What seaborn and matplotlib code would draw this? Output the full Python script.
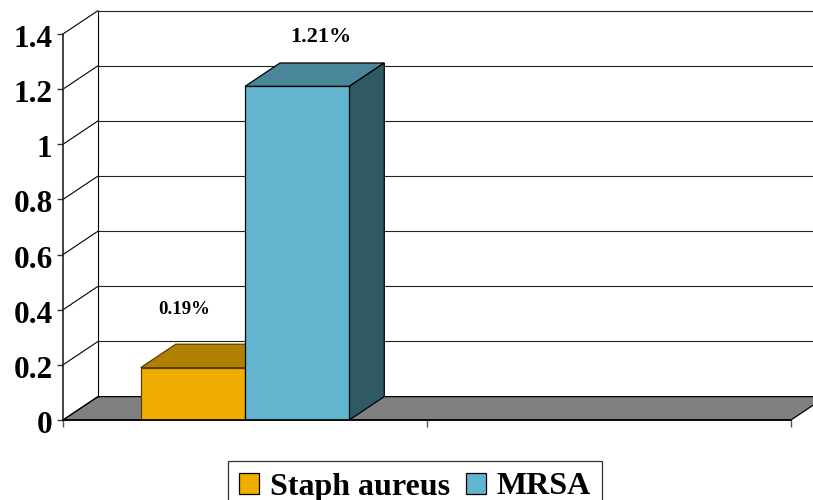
import matplotlib
matplotlib.use("Agg")
import matplotlib.pyplot as plt
from matplotlib.patches import Polygon, Patch
from matplotlib.transforms import ScaledTranslation
import pandas as pd
import seaborn as sns

series_names = ["Staph aureus", "MRSA"]
series_values = [0.19, 1.21]
value_labels = ["0.19%", "1.21%"]
y_ticks = [0, 0.2, 0.4, 0.6, 0.8, 1, 1.2, 1.4]
y_tick_labels = ["0", "0.2", "0.4", "0.6", "0.8", "1", "1.2", "1.4"]

FRONT = ["#F0AD00", "#62B4CF"]
TOP = ["#B08000", "#4A8699"]
SIDE = ["#8A6400", "#2F5A64"]
EDGE = ["#5A4000", "#000000"]
FLOOR = "#808080"
W, H = 813, 500
DPI = 100

sns.set_theme(style="white")
plt.rcParams["font.family"] = ["Liberation Serif", "DejaVu Serif"]
plt.rcParams["font.weight"] = "bold"
plt.rcParams["text.color"] = "black"

fig = plt.figure(figsize=(W / DPI, H / DPI), dpi=DPI)
ax = fig.add_axes([63 / W, 1 - 420 / H, 728 / W, 386 / H])

df = pd.DataFrame({"group": ["All"] * 2, "organism": series_names, "rate": series_values})
sns.barplot(data=df, x="group", y="rate", hue="organism", hue_order=series_names,
            palette=FRONT, saturation=1, width=0.573, gap=0, legend=False,
            edgecolor="black", linewidth=0.9, ax=ax, zorder=5)

ax.set_xlim(-0.5, 1.5)
ax.set_ylim(0, 1.4)
ax.set_xlabel("")
ax.set_ylabel("")

# Oblique depth of the pseudo-3D box, in data units
dx = 35 / 364
dy = 23.4 * 1.4 / 386
x0, x1 = ax.get_xlim()
right_limit = x0 + (W - 63) / 364

# Floor, back wall and side wall lines
ax.add_patch(Polygon([(x0, 0), (x1, 0), (x1 + dx, dy), (x0 + dx, dy)], closed=True,
                     facecolor=FLOOR, edgecolor="black", linewidth=0.9,
                     clip_on=False, zorder=1))
ax.plot([x0 + dx, x0 + dx], [dy, 1.4 + dy], color="black", lw=0.8, clip_on=False, zorder=1)
for t in y_ticks:
    ax.plot([x0, x0 + dx], [t, t + dy], color="black", lw=0.8, clip_on=False, zorder=2)
    if t > 0:
        ax.plot([x0 + dx, right_limit], [t + dy, t + dy], color="#222222", lw=0.8,
                clip_on=False, zorder=1)

# Top and side faces of each bar, then its value label
label_offsets = [(-9, 58), (24, 49)]
label_sizes = [13.6, 16]
bars = [c[0] for c in ax.containers]
for i, bar in enumerate(bars):
    l, r = bar.get_x(), bar.get_x() + bar.get_width()
    h = bar.get_height()
    ax.add_patch(Polygon([(l, h), (r, h), (r + dx, h + dy), (l + dx, h + dy)], closed=True,
                         facecolor=TOP[i], edgecolor=EDGE[i], linewidth=0.9,
                         clip_on=False, zorder=3 + i))
    ax.add_patch(Polygon([(r, 0), (r + dx, dy), (r + dx, h + dy), (r, h)], closed=True,
                         facecolor=SIDE[i], edgecolor=EDGE[i], linewidth=0.9,
                         clip_on=False, zorder=3 + i))
    ax.annotate(value_labels[i], xy=((l + r) / 2, h),
                xytext=(label_offsets[i][0] * 72 / DPI, label_offsets[i][1] * 72 / DPI),
                textcoords="offset points", ha="center", va="center",
                fontsize=label_sizes[i], fontweight="bold", color="black", zorder=8)
    bar.set_zorder(5 + i)
    bar.set_edgecolor(EDGE[i])

ax.set_yticks(y_ticks)
ax.set_yticklabels(y_tick_labels, fontsize=22.5, fontweight="bold", color="black")
ax.set_xticks([x0, (x0 + x1) / 2, x1])
ax.set_xticklabels([])
ax.tick_params(axis="y", left=True, length=4, width=1, color="#333333", pad=3.5)
ax.tick_params(axis="x", bottom=True, length=5, width=1, color="#555555")
# The tick labels sit a little below their gridline level
shift = ScaledTranslation(0, -2 / DPI, fig.dpi_scale_trans)
for tick in ax.yaxis.get_major_ticks():
    tick.label1.set_transform(tick.label1.get_transform() + shift)
for name, spine in ax.spines.items():
    spine.set_visible(name in ("left", "bottom"))
    spine.set_color("#222222" if name == "left" else "black")
    spine.set_linewidth(1.2)
    spine.set_zorder(7)
ax.patch.set_alpha(0)

# The legend frame runs off the bottom edge of the figure
handles = [Patch(facecolor=FRONT[i], edgecolor="black", linewidth=0.9) for i in range(2)]
leg = fig.legend(handles, series_names, loc="center", bbox_to_anchor=(415 / W, 1 - 487 / H),
                 ncol=2, frameon=True, fancybox=False, framealpha=1, edgecolor="#333333",
                 labelcolor="black",
                 prop={"family": "Liberation Serif", "weight": "bold", "size": 23},
                 handlelength=0.63, handleheight=0.63, handletextpad=0.33,
                 columnspacing=0.5, borderpad=0.36, borderaxespad=0)
leg.get_frame().set_linewidth(0.9)

fig.savefig("out.png", dpi=DPI)
